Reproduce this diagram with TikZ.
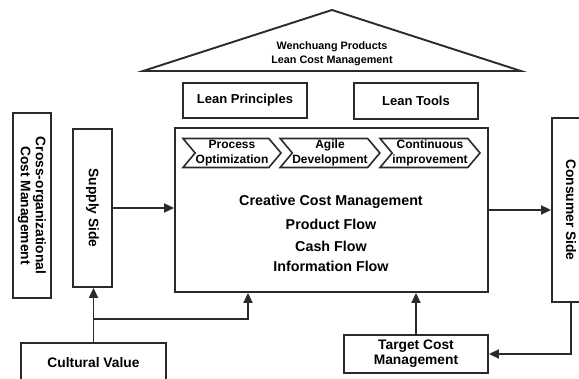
\documentclass[tikz,border=0pt]{standalone}
\usepackage{fontspec}
\setmainfont{Liberation Sans}
\usetikzlibrary{arrows.meta,shapes.symbols}
\definecolor{ink}{HTML}{2B2B2B}
\begin{document}
\begin{tikzpicture}[x=1pt,y=-1pt,
  box/.style={draw=ink,line width=1.9pt,fill=white,inner sep=0pt,align=center,
    text=black,font=\bfseries\fontsize{13.8}{15}\selectfont},
  chev/.style={draw=ink,line width=1.6pt,fill=white,shape=signal,signal to=east,
    signal from=west,signal pointer angle=100,minimum width=98pt,minimum height=29pt,
    inner sep=0pt,align=center,font=\bfseries\fontsize{12}{14.5}\selectfont},
  big/.style={font=\bfseries\fontsize{14.3}{16}\selectfont,inner sep=0pt},
  line/.style={draw=ink,line width=1.9pt},
  arr/.style={line,-{Triangle[length=10pt,width=9pt]}}]
\clip (0,0) rectangle (579,379);
\fill[white] (0,0) rectangle (579,379);
% roof
\coordinate (roofL) at (143,71);
\coordinate (roofT) at (332,10);
\coordinate (roofR) at (521,71);
\draw[ink,line width=1.9pt,line join=miter] (roofL) -- (roofT) -- (roofR) -- cycle;
\node[font=\bfseries\fontsize{10.8}{13.5}\selectfont,align=center,inner sep=0pt] (rooftext) at (332,53.5) {Wenchuang Products\\Lean Cost Management};
% lean boxes
\node[box,font=\bfseries\fontsize{13}{15}\selectfont,minimum width=124pt,minimum height=35pt] (principles) at (245,100.5) {Lean Principles};
\node[box,font=\bfseries\fontsize{13}{15}\selectfont,minimum width=124pt,minimum height=36pt] (tools) at (416,101) {Lean Tools};
% main box
\node[box,minimum width=313pt,minimum height=164pt] (main) at (331.5,210) {};
\node[chev] (c1) at (232,153) {Process\\Optimization};
\node[chev] (c2) at (330,153) {Agile\\Development};
\node[chev,minimum width=100pt] (c3) at (430,153) {Continuous\\improvement};
\node[big] (ccm) at (331,202) {Creative Cost Management};
\node[big] (pf) at (331,224) {Product Flow};
\node[big] (cf) at (331,246) {Cash Flow};
\node[big] (inf) at (331,266) {Information Flow};
% side boxes
\node[box,rotate=-90,minimum width=185pt,minimum height=38pt] (cross) at (32,205.5) {Cross-organizational\\Cost Management};
\node[box,rotate=-90,minimum width=158pt,minimum height=39pt] (supply) at (92.5,208) {Supply Side};
\node[box,rotate=-90,minimum width=184pt,minimum height=38pt] (consumer) at (571,210) {Consumer Side};
\node[box,minimum width=145pt,minimum height=40pt] (cultural) at (93.5,363) {Cultural Value};
\node[box,minimum width=144pt,minimum height=38pt] (target) at (416,354) {Target Cost\\Management};
% connectors
\draw[arr] (supply.north) -- (supply.north -| main.west);
\draw[arr] (main.east) -- (main.east -| consumer.south);
\draw[arr] (cultural.north) -- (cultural.north |- supply.east);
\coordinate (j) at (93.5,319);
\coordinate (mb) at (248,292);
\draw[arr] (j) -| (mb |- main.south);
\draw[arr] (target.north) -- (target.north |- main.south);
\draw[arr] (consumer.east) |- (target.east);
\end{tikzpicture}
\end{document}
